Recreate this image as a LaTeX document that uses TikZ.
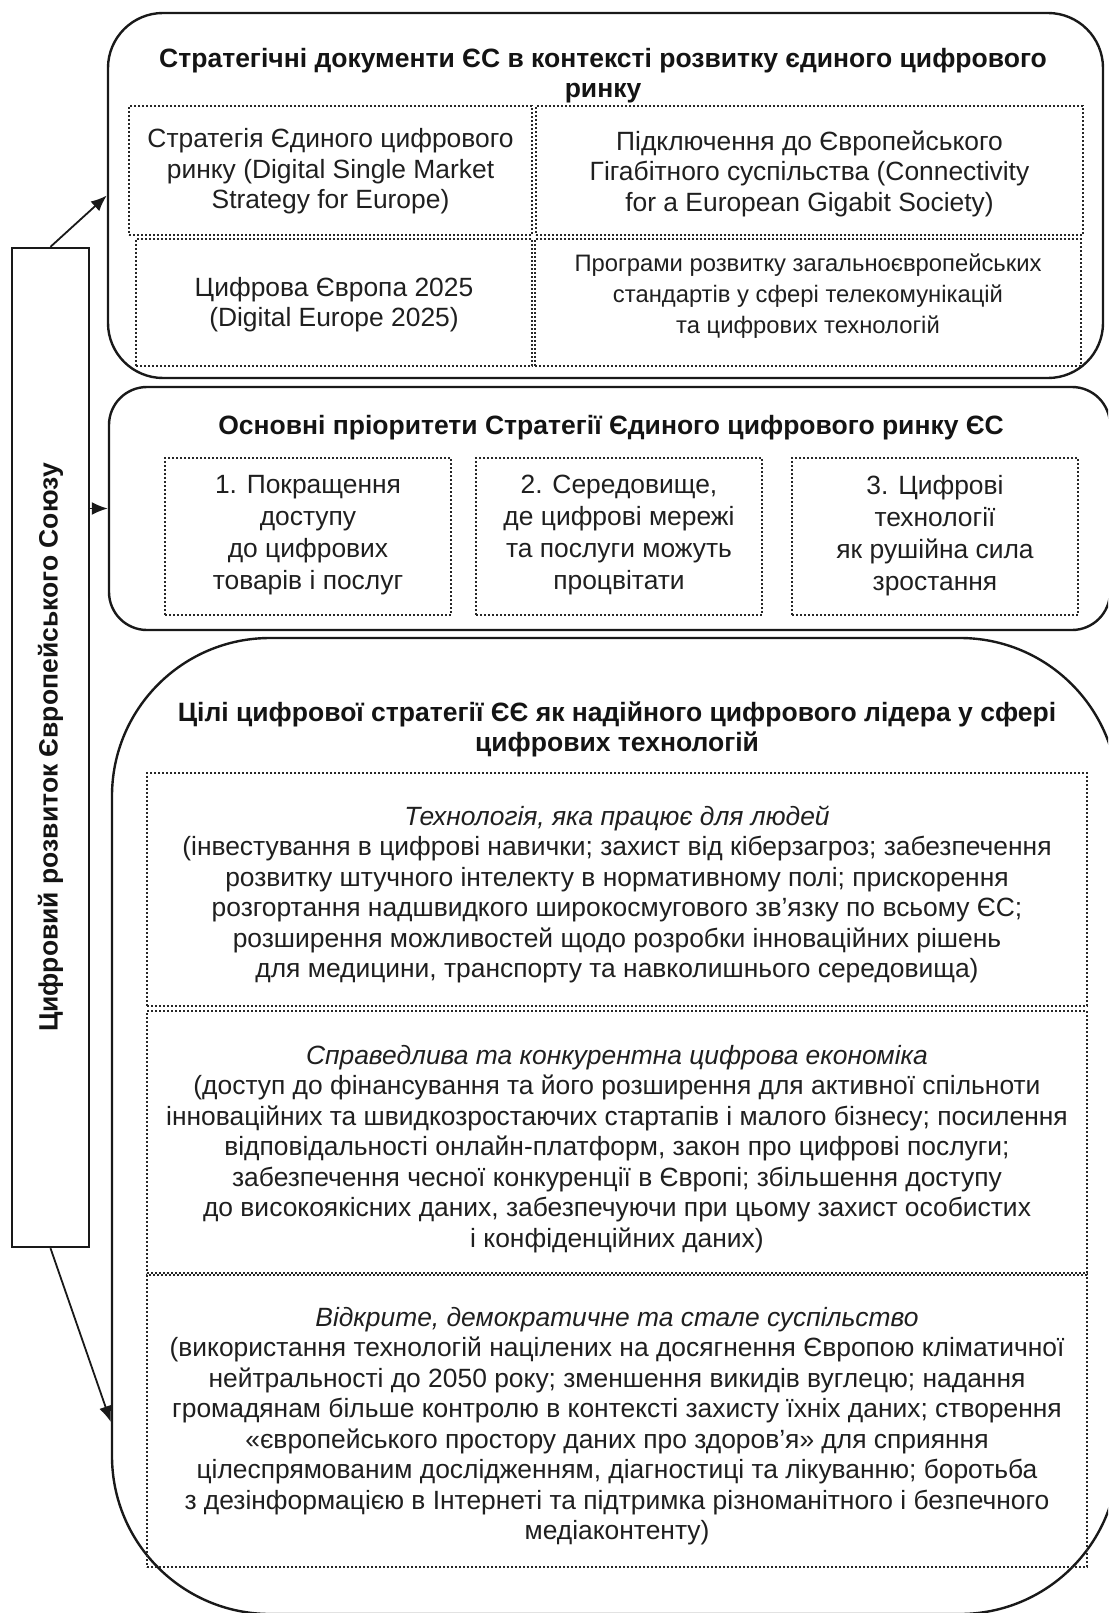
\documentclass[tikz,border=0pt]{standalone}
\usepackage{fontspec}
\setmainfont{Liberation Sans}
\usetikzlibrary{arrows.meta,fit,calc}

\tikzset{
  outerbox/.style={draw=black!90, line width=2.4pt, inner sep=0pt},
  dotbox/.style={draw=black!85, line width=1.8pt, dash pattern=on 1.8pt off 2.2pt, inner sep=0pt},
  bodytext/.style={align=center, font=\fontsize{26.4}{30.5}\selectfont, text=black!88},
  headtext/.style={align=center, font=\fontsize{26.5}{30}\selectfont\bfseries, text=black!92},
  arr/.style={-{Latex[length=16pt,width=13pt]}, line width=1.8pt, draw=black!90},
}

\begin{document}
\begin{tikzpicture}[x=1pt,y=-1pt]
  \useasboundingbox (0,0) rectangle (1108,1613);
  \clip (0,0) rectangle (1108,1613);

  \node[outerbox, rounded corners=55pt, fit={(108,13) (1103,378)}] (docs) {};
  \node[outerbox, rounded corners=38pt, fit={(109,387) (1110,630)}] (prio) {};
  \node[outerbox, rounded corners=158pt, fit={(112,638) (1118,1614)}] (goals) {};
  \node[outerbox, fit={(12,248) (89,1247)}] (side) {};

  \node[headtext, rotate=90] (sidetext) at (side.center) {Цифровий розвиток Європейського Союзу};

  \node[headtext] (docstitle) at (603,76) {Стратегічні документи ЄС в контексті розвитку єдиного цифрового\\ринку};
  \node[dotbox, fit={(129,106) (532,235)}] (dsm) {};
  \node[dotbox, fit={(536,106) (1083,235)}] (gigabit) {};
  \node[dotbox, fit={(136,239) (532,366)}] (de2025) {};
  \node[dotbox, fit={(535,239) (1081,366)}] (standards) {};
  \node[bodytext] (dsmtext) at ([yshift=-1pt]dsm.center) {Стратегія Єдиного цифрового\\ринку (Digital Single Market\\Strategy for Europe)};
  \node[bodytext] (gigabittext) at ([yshift=-3pt]gigabit.center) {Підключення до Європейського\\Гігабітного суспільства (Connectivity\\for a European Gigabit Society)};
  \node[bodytext] (de2025text) at ([yshift=-2pt]de2025.center) {Цифрова Європа 2025\\(Digital Europe 2025)};
  \node[bodytext, font=\fontsize{23.8}{31}\selectfont] (standardstext) at ([yshift=6pt]standards.center) {Програми розвитку загальноєвропейських\\стандартів у сфері телекомунікацій\\та цифрових технологій};

  \node[headtext] (priotitle) at (611,428) {Основні пріоритети Стратегії Єдиного цифрового ринку ЄС};
  \node[dotbox, fit={(165,458) (451,615)}] (prio1) {};
  \node[dotbox, fit={(476,458) (762,615)}] (prio2) {};
  \node[dotbox, fit={(792,458) (1078,615)}] (prio3) {};
  \node[bodytext, font=\fontsize{26.4}{32}\selectfont] (prio1text) at ([yshift=1pt]prio1.center) {1. Покращення\\доступу\\до цифрових\\товарів і послуг};
  \node[bodytext, font=\fontsize{26.4}{32}\selectfont] (prio2text) at ([yshift=1pt]prio2.center) {2. Середовище,\\де цифрові мережі\\та послуги можуть\\процвітати};
  \node[bodytext, font=\fontsize{26.4}{32}\selectfont] (prio3text) at ([yshift=1pt]prio3.center) {3. Цифрові\\технології\\як рушійна сила\\зростання};

  \node[headtext] (goalstitle) at (617,729) {Цілі цифрової стратегії ЄЄ як надійного цифрового лідера у сфері\\цифрових технологій};
  \node[dotbox, fit={(147,773) (1087,1006)}] (people) {};
  \node[dotbox, fit={(147,1011) (1087,1273)}] (economy) {};
  \node[dotbox, fit={(147,1275) (1087,1567)}] (society) {};
  \node[bodytext] (peopletext) at ([yshift=-5pt]people.center) {\textit{Технологія, яка працює для людей}\\(інвестування в цифрові навички; захист від кіберзагроз; забезпечення\\розвитку штучного інтелекту в нормативному полі; прискорення\\розгортання надшвидкого широкосмугового зв’язку по всьому ЄС;\\розширення можливостей щодо розробки інноваційних рішень\\для медицини, транспорту та навколишнього середовища)};
  \node[bodytext] (economytext) at ([yshift=-7pt]economy.center) {\textit{Справедлива та конкурентна цифрова економіка}\\(доступ до фінансування та його розширення для активної спільноти\\інноваційних та швидкозростаючих стартапів і малого бізнесу; посилення\\відповідальності онлайн-платформ, закон про цифрові послуги;\\забезпечення чесної конкуренції в Європі; збільшення доступу\\до високоякісних даних, забезпечуючи при цьому захист особистих\\і конфіденційних даних)};
  \node[bodytext] (societytext) at ([yshift=-5pt]society.center) {\textit{Відкрите, демократичне та стале суспільство}\\(використання технологій націлених на досягнення Європою кліматичної\\нейтральності до 2050 року; зменшення викидів вуглецю; надання\\громадянам більше контролю в контексті захисту їхніх даних; створення\\«європейського простору даних про здоров’я» для сприяння\\цілеспрямованим дослідженням, діагностиці та лікуванню; боротьба\\з дезінформацією в Інтернеті та підтримка різноманітного і безпечного\\медіаконтенту)};

  \coordinate (goalsin) at (goals.west |- 0,1422);
  \draw[arr] (side.north) -- (docs.west);
  \draw[arr] (side.east |- prio.west) -- (prio.west);
  \draw[arr] (side.south) -- (goalsin);
\end{tikzpicture}
\end{document}
